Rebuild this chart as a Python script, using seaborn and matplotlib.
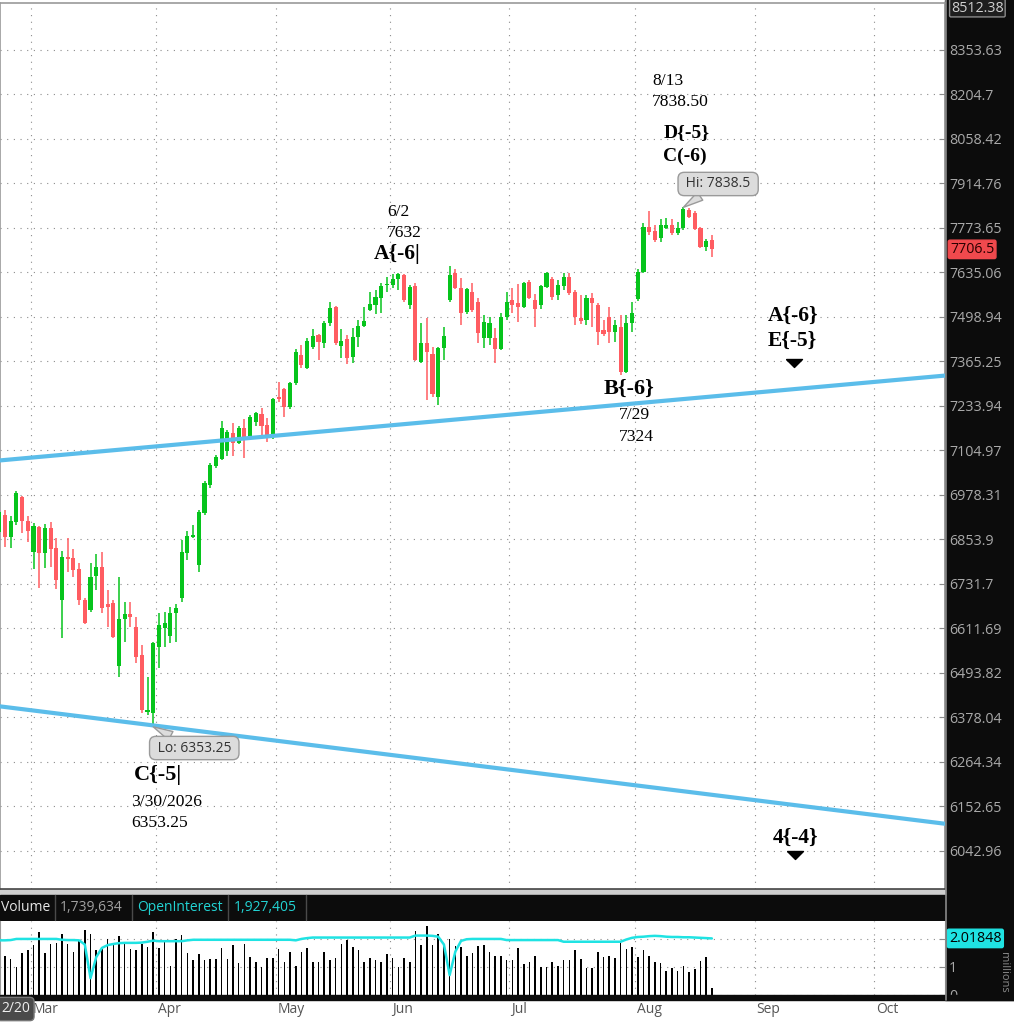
import numpy as np
import pandas as pd
import seaborn as sns
import matplotlib
matplotlib.use("Agg")
import matplotlib.pyplot as plt
from matplotlib.patches import Rectangle
from matplotlib.lines import Line2D
from matplotlib.transforms import blended_transform_factory, ScaledTranslation
from matplotlib.ticker import NullLocator

sns.set_style("white")
plt.rcParams['font.family'] = ['Open Sans', 'DejaVu Sans']

# daily bars 2/20/2026 .. 8/20/2026
opens = [6874, 6922, 6860, 6902, 6972, 6905, 6819, 6888, 6816, 6885,
         6830, 6688, 6805, 6802, 6772, 6688, 6661, 6753, 6778, 6677,
         6680, 6512, 6637, 6650, 6615, 6541, 6392, 6389, 6562, 6612,
         6591, 6653, 6693, 6816, 6860, 6783, 6927, 7006, 7060, 7080,
         7103, 7155, 7126, 7170, 7146, 7187, 7210, 7178, 7149, 7260,
         7284, 7231, 7301, 7384, 7346, 7408, 7444, 7420, 7480, 7529,
         7411, 7432, 7378, 7438, 7471, 7520, 7535, 7556, 7596, 7596,
         7615, 7628, 7535, 7594, 7364, 7420, 7387, 7260, 7405, 7550,
         7633, 7587, 7514, 7575, 7544, 7435, 7435, 7435, 7402, 7499,
         7550, 7541, 7529, 7606, 7550, 7535, 7590, 7615, 7566, 7593,
         7621, 7575, 7496, 7490, 7556, 7535, 7459, 7499, 7453, 7468,
         7335, 7480, 7553, 7636, 7777, 7764, 7742, 7773, 7783, 7758,
         7773, 7830, 7821, 7773, 7714, 7736]
highs = [6936, 6936, 6919, 6989, 6975, 6919, 6899, 6890, 6897, 6902,
         6858, 6822, 6858, 6827, 6789, 6693, 6789, 6813, 6819, 6715,
         6688, 6750, 6682, 6682, 6642, 6567, 6483, 6575, 6653, 6655,
         6669, 6677, 6852, 6877, 6894, 6936, 7018, 7069, 7092, 7190,
         7164, 7184, 7175, 7196, 7207, 7216, 7228, 7199, 7257, 7304,
         7286, 7304, 7402, 7414, 7435, 7462, 7446, 7487, 7544, 7531,
         7462, 7444, 7465, 7490, 7529, 7575, 7581, 7603, 7621, 7630,
         7632, 7631, 7596, 7603, 7480, 7496, 7408, 7408, 7468, 7655,
         7646, 7618, 7587, 7603, 7556, 7505, 7499, 7465, 7511, 7575,
         7587, 7600, 7606, 7612, 7569, 7596, 7636, 7621, 7612, 7633,
         7633, 7581, 7566, 7566, 7572, 7541, 7490, 7529, 7490, 7505,
         7505, 7544, 7646, 7789, 7827, 7783, 7802, 7805, 7802, 7792,
         7838.5, 7836, 7827, 7777, 7739, 7751]
lows = [6852, 6833, 6830, 6894, 6872, 6847, 6772, 6720, 6775, 6778,
        6718, 6586, 6764, 6750, 6674, 6623, 6656, 6715, 6653, 6615,
        6586, 6483, 6575, 6615, 6520, 6389, 6384, 6353.25, 6506, 6562,
        6572, 6575, 6682, 6797, 6858, 6764, 6922, 6998, 7054, 7077,
        7089, 7089, 7123, 7083, 7144, 7175, 7149, 7129, 7138, 7245,
        7202, 7225, 7295, 7346, 7343, 7402, 7370, 7405, 7471, 7414,
        7375, 7358, 7361, 7408, 7468, 7517, 7508, 7511, 7575, 7587,
        7581, 7544, 7523, 7366, 7361, 7251, 7260, 7237, 7370, 7544,
        7584, 7474, 7508, 7514, 7420, 7405, 7414, 7361, 7399, 7490,
        7511, 7484, 7526, 7553, 7468, 7523, 7587, 7550, 7550, 7581,
        7566, 7474, 7477, 7474, 7468, 7414, 7441, 7420, 7423, 7324,
        7330, 7453, 7547, 7633, 7751, 7730, 7730, 7770, 7751, 7751,
        7767, 7805, 7767, 7711, 7701, 7683]
closes = [6930, 6860, 6905, 6984, 6905, 6877, 6891, 6816, 6885, 6827,
          6742, 6805, 6800, 6770, 6688, 6626, 6750, 6778, 6666, 6669,
          6589, 6637, 6650, 6642, 6535, 6397, 6397, 6572, 6620, 6626,
          6653, 6666, 6819, 6863, 6866, 6930, 7012, 7063, 7086, 7170,
          7158, 7126, 7170, 7144, 7202, 7213, 7175, 7149, 7254, 7254,
          7231, 7301, 7393, 7355, 7426, 7441, 7423, 7480, 7526, 7420,
          7426, 7376, 7438, 7471, 7486, 7538, 7560, 7593, 7600, 7615,
          7630, 7550, 7590, 7370, 7420, 7393, 7269, 7405, 7441, 7627,
          7587, 7511, 7584, 7520, 7450, 7484, 7480, 7402, 7499, 7544,
          7535, 7529, 7603, 7556, 7523, 7593, 7633, 7560, 7596, 7621,
          7572, 7499, 7486, 7556, 7541, 7453, 7447, 7453, 7474, 7334,
          7480, 7511, 7636, 7777, 7761, 7736, 7783, 7783, 7758, 7773,
          7832, 7808, 7770, 7714, 7733, 7706.5]
# volume and open interest, millions
volume_m = [1.70, 1.40, 1.29, 1.00, 1.50, 1.60, 1.79, 2.24, 1.50, 1.81,
            1.86, 2.18, 1.81, 1.55, 1.96, 2.32, 2.18, 1.61, 1.64, 2.00,
            1.81, 2.11, 1.90, 1.64, 1.60, 1.82, 1.73, 2.24, 1.69, 1.90,
            1.05, 1.99, 2.14, 1.50, 1.24, 1.46, 1.24, 1.29, 1.29, 1.69,
            1.29, 1.79, 1.14, 1.82, 1.37, 1.19, 1.01, 1.33, 1.33, 1.64,
            1.19, 1.55, 1.05, 1.55, 1.69, 1.19, 1.19, 1.55, 1.24, 1.33,
            1.81, 1.96, 1.73, 1.60, 1.19, 1.33, 1.24, 1.19, 1.46, 1.33,
            1.00, 1.33, 1.19, 2.29, 1.79, 2.46, 1.79, 2.19, 1.79, 2.00,
            1.74, 1.73, 1.40, 1.50, 1.74, 1.79, 1.55, 1.40, 1.40, 1.24,
            1.24, 1.69, 1.10, 1.19, 1.40, 1.00, 1.00, 1.19, 1.05, 1.24,
            1.24, 1.60, 1.29, 0.95, 0.95, 1.55, 1.37, 1.40, 1.33, 1.93,
            1.64, 1.73, 1.37, 1.60, 1.40, 1.17, 1.13, 0.86, 0.95, 0.86,
            1.05, 0.81, 0.92, 1.23, 1.36, 0.24]
open_interest_m = [1.95, 1.95, 1.96, 2.00, 2.00, 2.00, 2.00, 2.00, 2.00, 2.00,
                   2.00, 1.97, 1.96, 1.96, 1.95, 1.80, 0.60, 1.35, 1.68, 1.78,
                   1.82, 1.85, 1.86, 1.86, 1.86, 1.87, 1.90, 1.94, 1.92, 1.92,
                   1.92, 1.92, 1.92, 1.95, 1.97, 1.97, 1.97, 1.97, 1.97, 1.97,
                   1.97, 1.97, 1.97, 1.97, 1.97, 1.97, 1.97, 1.97, 1.97, 1.97,
                   1.97, 1.97, 1.95, 2.00, 2.03, 2.05, 2.05, 2.05, 2.05, 2.05,
                   2.05, 2.05, 2.05, 2.05, 2.05, 2.05, 2.05, 2.05, 2.05, 2.05,
                   2.05, 2.05, 2.05, 2.12, 2.12, 2.12, 2.11, 2.08, 1.80, 0.71,
                   1.55, 1.93, 1.99, 2.00, 2.00, 2.00, 2.00, 2.00, 2.00, 1.96,
                   1.96, 1.96, 1.96, 1.96, 1.96, 1.96, 1.96, 1.96, 1.96, 1.90,
                   1.90, 1.90, 1.90, 1.90, 1.90, 1.90, 1.90, 1.90, 1.90, 1.90,
                   1.98, 2.04, 2.07, 2.08, 2.10, 2.11, 2.10, 2.08, 2.07, 2.07,
                   2.06, 2.06, 2.05, 2.04, 2.03, 2.018]

price_ticks = [8353.63, 8204.7, 8058.42, 7914.76, 7773.65, 7635.06, 7498.94,
               7365.25, 7233.94, 7104.97, 6978.31, 6853.9, 6731.7, 6611.69,
               6493.82, 6378.04, 6264.34, 6152.65, 6042.96]
price_tick_labels = ['8353.63', '8204.7', '8058.42', '7914.76', '7773.65', '7635.06',
                     '7498.94', '7365.25', '7233.94', '7104.97', '6978.31', '6853.9',
                     '6731.7', '6611.69', '6493.82', '6378.04', '6264.34', '6152.65',
                     '6042.96']
month_names = ['Mar', 'Apr', 'May', 'Jun', 'Jul', 'Aug', 'Sep', 'Oct']
holidays = ['2026-04-03', '2026-05-25', '2026-06-19', '2026-07-03', '2026-09-07']

# drawn trend lines (values where they cross the chart edges)
trend_x = [0.12, 165.9]
upper_line = [7076, 7323]
lower_line = [6406, 6109]

GREEN = '#06C41C'
RED = '#FF5C61'
BLUE = '#5BBDEA'
CYAN = '#1FE3E3'

days = pd.bdate_range('2026-02-20', '2026-10-30', freq='C', holidays=holidays)
n = len(opens)
df = pd.DataFrame({'date': days[:n], 'open': opens, 'high': highs, 'low': lows,
                   'close': closes, 'volume': volume_m, 'oi': open_interest_m})
df['x'] = np.arange(n)
month_pos = [int(np.argmax(days.month == m)) - 0.5 for m in range(3, 11)]
XLIM = (0.12, 165.9)

W, H = 1014, 1023
fx = lambda px: px / W
fy = lambda py: 1 - py / H

fig = plt.figure(figsize=(W / 100, H / 100), dpi=100)
fig.patch.set_facecolor('white')

# background panels
fig.add_artist(Rectangle((fx(945), fy(1000)), fx(69), 1000 / H, transform=fig.transFigure,
                         color='#0c0c0c', zorder=-1))
fig.add_artist(Rectangle((0, fy(895)), fx(945), 6 / H, transform=fig.transFigure,
                         color='#cfcfcf', zorder=-1))
fig.add_artist(Rectangle((0, fy(920)), fx(945), 25 / H, transform=fig.transFigure,
                         color='#0c0c0c', zorder=-1))
fig.add_artist(Rectangle((0, fy(1000)), 1, 5 / H, transform=fig.transFigure,
                         color='#0c0c0c', zorder=2))
fig.add_artist(Line2D([fx(945.5)] * 2, [fy(0), fy(1000)], transform=fig.transFigure,
                      color='#8a8a8a', lw=1.2, zorder=3))

# ---------------- price panel ----------------
ax = fig.add_axes([0, fy(889), fx(945), fy(3.45) - fy(889)])
ax.set_yscale('log')
up = df['close'] >= df['open']
cols = np.where(up, GREEN, RED)
ax.vlines(df['x'], df['low'], df['high'], colors=cols, lw=1.1, zorder=3)
body_lo = df[['open', 'close']].min(axis=1)
body_h = (df['close'] - df['open']).abs().clip(lower=2.5)
ax.bar(df['x'], body_h, bottom=body_lo, width=0.72, color=cols, lw=0, zorder=4)

for line in (upper_line, lower_line):
    sns.lineplot(x=trend_x, y=line, ax=ax, color=BLUE, lw=3.0, zorder=5)

ax.set_xlim(*XLIM)
ax.set_ylim(5949.9, 8512.38)
ax.set_yticks(price_ticks, labels=price_tick_labels)
ax.yaxis.set_minor_locator(NullLocator())
ax.yaxis.tick_right()
ax.tick_params(axis='y', which='major', direction='in', length=4, color='#8a8a8a',
               labelcolor='#a9a9a9', labelsize=10.3, pad=3, right=True, left=False)
ax.set_xticks(month_pos)
ax.tick_params(axis='x', length=0, labelbottom=False)
ax.set_axisbelow(True)
ax.grid(True, which='major', color='#8c8c8c', ls=(0, (1, 5)), lw=0.8)
ax.set_xlabel('')
ax.set_ylabel('')
for side, c in [('top', '#9a9a9a'), ('left', '#9a9a9a'), ('right', '#8a8a8a'), ('bottom', '#444444')]:
    ax.spines[side].set_color(c)
    ax.spines[side].set_linewidth(1.2)

serif = ['Liberation Serif', 'DejaVu Serif']


def note(x, y, s, bold=False, size=12.6, ha='left'):
    ax.text(x, y, s, fontsize=size, fontweight='bold' if bold else 'normal', family=serif,
            ha=ha, va='center', color='black', zorder=7)


note(114.5, 8249, '8/13')
note(114.5, 8180, '7838.50')
note(120.5, 8081, 'D{-5}', True, 14, 'center')
note(120.3, 8003, 'C(-6)', True, 14, 'center')
note(68.0, 7824, '6/2')
note(68.0, 7758, '7632')
note(65.7, 7692, 'A{-6|', True, 15.5)
note(110.5, 7284, 'B{-6}', True, 16, 'center')
note(108.7, 7207, '7/29')
note(108.7, 7144, '7324')
note(27.8, 6231, 'C{-5|', True, 16, 'center')
note(23.1, 6163, '3/30/2026')
note(23.1, 6111, '6353.25')
note(139.2, 7502, 'A{-6}', True, 15.5, 'center')
note(139.2, 7426, 'E{-5}', True, 15.5, 'center')
note(139.6, 6074, '4{-4}', True, 15.5, 'center')

tri = [(-1, 0.5), (1, 0.5), (0, -0.5), (-1, 0.5)]
ax.plot([139.4], [7361], marker=tri, ms=11.5, color='black', ls='none', zorder=7)
ax.plot([139.6], [6032], marker=tri, ms=11.5, color='black', ls='none', zorder=7)

box = dict(boxstyle='round,pad=0.3,rounding_size=0.45', fc='#dcdcdc', ec='#9a9a9a', lw=1)
wedge = dict(arrowstyle='wedge,tail_width=0.7', fc='#dcdcdc', ec='#9a9a9a', lw=1,
             shrinkA=0, shrinkB=0, connectionstyle='arc3')
ax.annotate(' Hi: 7838.5 ', xy=(120, 7838.5), xytext=(126.1, 7913), ha='center', va='center',
            fontsize=10, color='#333333', bbox=box, arrowprops=wedge, zorder=8)
ax.annotate(' Lo: 6353.25 ', xy=(27, 6353.25), xytext=(34.2, 6299), ha='center', va='center',
            fontsize=10, color='#333333', bbox=box, arrowprops=wedge, zorder=8)

rt = blended_transform_factory(ax.transAxes, ax.transData)
fig.text(fx(951), fy(0.5), '8512.38', ha='left', va='top', fontsize=10.3,
         color='#d0d0d0', zorder=9,
         bbox=dict(boxstyle='round,pad=0.1', fc='#1e1e1e', ec='#8a8a8a', lw=1))
ax.text(1 + 5 / 945, 7706.5, '7706.5', transform=rt, ha='left', va='center', fontsize=10.3,
        color='#2a0000', clip_on=False, zorder=9,
        bbox=dict(boxstyle='round,pad=0.12', fc='#F0494D', ec='#F0494D', lw=1))

# ---------------- volume panel ----------------
axv = fig.add_axes([0, fy(995), fx(945), fy(921) - fy(995)])
sns.barplot(data=df, x='x', y='volume', native_scale=True, color='black', saturation=1,
            width=0.27, errorbar=None, linewidth=0, ax=axv)
sns.lineplot(data=df, x='x', y='oi', ax=axv, color=CYAN, lw=1.8, zorder=4)
axv.set_xlim(*XLIM)
axv.set_ylim(0, 2.64)
axv.set_yticks([0, 1, 2], labels=['0', '1', ''])
axv.yaxis.tick_right()
axv.tick_params(axis='y', direction='in', length=4, color='#8a8a8a', labelcolor='#a9a9a9',
                labelsize=10.3, pad=3)
axv.set_xticks(month_pos, labels=month_names)
axv.tick_params(axis='x', length=0, pad=5, labelcolor='#555555', labelsize=10)
shift = ScaledTranslation(2 / 100, 0, fig.dpi_scale_trans)
for lbl in axv.get_xticklabels():
    lbl.set_horizontalalignment('left')
    lbl.set_transform(lbl.get_transform() + shift)
axv.set_axisbelow(True)
axv.grid(True, which='major', color='#8c8c8c', ls=(0, (1, 5)), lw=0.8)
axv.set_xlabel('')
axv.set_ylabel('')
for side in ('top', 'bottom'):
    axv.spines[side].set_visible(False)
axv.spines['left'].set_color('#9a9a9a')
axv.spines['right'].set_color('#8a8a8a')

rv = blended_transform_factory(axv.transAxes, axv.transData)
axv.text(1 + 4 / 945, 2.01848, '2.01848', transform=rv, ha='left', va='center', fontsize=10.3,
         color='black', clip_on=False, zorder=9,
         bbox=dict(boxstyle='round,pad=0.12', fc=CYAN, ec=CYAN, lw=1))

# header strip of the lower study
hy = fy(907.5)
fig.text(fx(1), hy, 'Volume', color='#e6e6e6', fontsize=10, va='center')
fig.text(fx(60), hy, '1,739,634', color='#a0a0a0', fontsize=10, va='center')
fig.text(fx(137), hy, 'OpenInterest', color='#22d3d3', fontsize=10, va='center')
fig.text(fx(234), hy, '1,927,405', color='#22d3d3', fontsize=10, va='center')
for sx in (55, 132, 228, 306):
    fig.add_artist(Line2D([fx(sx)] * 2, [fy(895), fy(920)], transform=fig.transFigure,
                          color='#4a4a4a', lw=1))

fig.text(fx(1), fy(1009), '2/20', color='#eeeeee', fontsize=10, va='center', ha='left', zorder=6,
         bbox=dict(boxstyle='round,pad=0.3', fc='#4a4a4a', ec='#777777', lw=1))
fig.text(fx(998), fy(972), 'millions', color='#8a8a8a', fontsize=8, rotation=270,
         va='center', ha='left')

fig.savefig('out.png', dpi=100)
